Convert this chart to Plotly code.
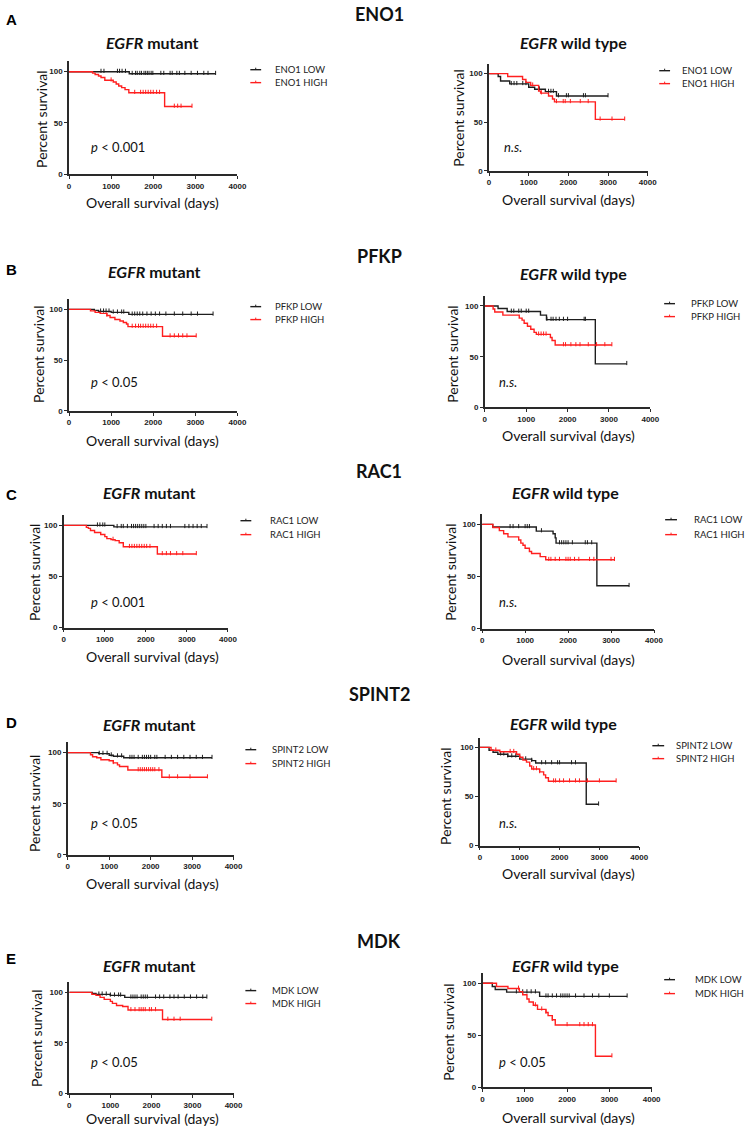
import plotly.graph_objects as go

W, H = 751, 1135

# ---------------- data (time in days, percent survival) ----------------
genes = ["ENO1", "PFKP", "RAC1", "SPINT2", "MDK"]
panel_letters = ["A", "B", "C", "D", "E"]
pvals_mut = ["p < 0.001", "p < 0.05", "p < 0.001", "p < 0.05", "p < 0.05"]
pvals_wt = ["n.s.", "n.s.", "n.s.", "n.s.", "p < 0.05"]
x_ticks = [0, 1000, 2000, 3000, 4000]
y_ticks = [0, 50, 100]

# ENO1
eno1_mut_low_t = [1430]
eno1_mut_low_s = [98]
eno1_mut_low_end = 3480
eno1_mut_low_cens = [760, 830, 1150, 1200, 1260, 1340, 1500, 1580, 1620, 1680, 1720, 1780, 1820, 1860, 1900,
                     1950, 1990, 2180, 2250, 2400, 2450, 2560, 2620, 2750, 2900, 3050, 3200, 3300, 3480]
eno1_mut_high_t = [560, 620, 700, 760, 850, 1050, 1120, 1180, 1250, 1330, 1420, 2270]
eno1_mut_high_s = [98.6, 97.2, 95.8, 94.4, 91.6, 90, 88, 86, 84.5, 82.5, 79.5, 66]
eno1_mut_high_end = 2920
eno1_mut_high_cens = [1000, 1560, 1700, 1760, 1820, 1880, 1940, 2000, 2080, 2150, 2500, 2580, 2660, 2920]

eno1_wt_low_t = [230, 290, 520, 1000, 1150, 1420, 1700]
eno1_wt_low_s = [97, 92.5, 89.5, 86, 84, 81.5, 77]
eno1_wt_low_end = 3000
eno1_wt_low_cens = [560, 630, 700, 850, 930, 1270, 1500, 1560, 1620, 1750, 1950, 2000, 2380, 2430, 3000]
eno1_wt_high_t = [470, 845, 930, 1050, 1250, 1300, 1500, 1600, 1650, 2680]
eno1_wt_high_s = [97, 94, 91, 88, 82, 80, 77, 74, 71, 53]
eno1_wt_high_end = 3420
eno1_wt_high_cens = [1100, 1320, 1700, 1870, 1920, 2050, 2300, 2500, 2800, 3100, 3420]

# PFKP
pfkp_mut_low_t = [600, 700, 1000, 1420]
pfkp_mut_low_s = [99, 98, 97, 95]
pfkp_mut_low_end = 3420
pfkp_mut_low_cens = [750, 820, 880, 950, 1050, 1150, 1250, 1300, 1500, 1560, 1620, 1680, 1750, 1850, 1950,
                     2050, 2150, 2300, 2500, 2700, 2900, 3050, 3420]
pfkp_mut_high_t = [510, 620, 740, 900, 975, 1090, 1210, 1290, 1365, 1400, 2220]
pfkp_mut_high_s = [98.5, 97, 96, 94, 92, 90, 88.5, 87, 85.5, 83, 73.5]
pfkp_mut_high_end = 3020
pfkp_mut_high_cens = [900, 1500, 1580, 1650, 1700, 1760, 1820, 1880, 1940, 2000, 2080, 2400, 2500, 2600,
                      2700, 2800, 3020]

pfkp_wt_low_t = [320, 540, 1345, 1490, 2670]
pfkp_wt_low_s = [97.5, 94.5, 91, 86.5, 43]
pfkp_wt_low_end = 3430
pfkp_wt_low_cens = [640, 700, 820, 880, 1000, 1060, 1500, 1600, 1650, 1720, 1800, 1900, 2000, 2400, 2430, 3430]
pfkp_wt_high_t = [200, 240, 436, 832, 900, 950, 1030, 1110, 1190, 1245, 1585, 1625, 1700]
pfkp_wt_high_s = [97, 94, 91, 88, 86, 83, 80, 77, 74, 72, 69, 66, 61.5]
pfkp_wt_high_end = 3070
pfkp_wt_high_cens = [1300, 1360, 1420, 1480, 1900, 1950, 2080, 2200, 2300, 2500, 2700, 2900, 3070]

# RAC1
rac1_mut_low_t = [1220]
rac1_mut_low_s = [98.5]
rac1_mut_low_end = 3490
rac1_mut_low_cens = [820, 880, 950, 1000, 1300, 1400, 1450, 1550, 1650, 1700, 1750, 1800, 1850, 1900, 1950,
                     2000, 2200, 2300, 2400, 2500, 2600, 2950, 3050, 3150, 3250, 3350, 3490]
rac1_mut_high_t = [550, 600, 650, 750, 900, 1000, 1050, 1150, 1250, 1350, 1450, 2280]
rac1_mut_high_s = [98, 97, 95, 93, 91, 89, 87, 86, 85, 83, 79, 72]
rac1_mut_high_end = 3230
rac1_mut_high_cens = [1200, 1600, 1660, 1720, 1780, 1840, 1900, 1960, 2020, 2100, 2400, 2500, 2600, 2750,
                      2900, 3230]

rac1_wt_low_t = [245, 1260, 1650, 1700, 1720, 2670]
rac1_wt_low_s = [97.5, 93.5, 91, 87, 82, 41]
rac1_wt_low_end = 3420
rac1_wt_low_cens = [650, 720, 850, 1000, 1050, 1100, 1380, 1800, 1850, 1900, 1950, 2000, 2100, 2400, 2450,
                    2550, 3420]
rac1_wt_high_t = [250, 400, 500, 600, 850, 900, 950, 1000, 1100, 1150, 1350, 1480]
rac1_wt_high_s = [97, 94, 91, 88, 85, 82, 80, 77, 74, 72, 69, 66]
rac1_wt_high_end = 3080
rac1_wt_high_cens = [1550, 1600, 1700, 1800, 1950, 2000, 2050, 2150, 2250, 2500, 2600, 3000, 3080]

# SPINT2
spint2_mut_low_t = [750, 1000, 1100, 1350]
spint2_mut_low_s = [99, 97.5, 96.5, 95]
spint2_mut_low_end = 3480
spint2_mut_low_cens = [760, 850, 950, 1050, 1200, 1300, 1500, 1550, 1600, 1700, 1800, 1850, 1900, 1950, 2000,
                       2100, 2150, 2350, 2500, 2650, 2800, 2950, 3100, 3250, 3480]
spint2_mut_high_t = [550, 600, 700, 800, 1000, 1100, 1200, 1250, 1450, 2270]
spint2_mut_high_s = [98, 96, 95, 93, 92, 90, 88, 86.5, 83, 76]
spint2_mut_high_end = 3370
spint2_mut_high_cens = [1100, 1700, 1750, 1800, 1850, 1900, 1950, 2000, 2050, 2100, 2200, 2450, 2650, 2950, 3370]

spint2_wt_low_t = [230, 330, 450, 700, 1000, 1300, 1400, 2670]
spint2_wt_low_s = [97, 95, 93, 91, 88, 86.5, 84, 42]
spint2_wt_low_end = 2980
spint2_wt_low_cens = [520, 600, 700, 800, 900, 1150, 1300, 1550, 1650, 1800, 1950, 2000, 2300, 2400, 2980]
spint2_wt_high_t = [280, 500, 920, 1000, 1080, 1170, 1250, 1300, 1500, 1600, 1650, 1720]
spint2_wt_high_s = [97, 95.5, 93, 90, 87, 85, 81, 78, 75, 72, 69, 65.5]
spint2_wt_high_end = 3420
spint2_wt_high_cens = [400, 760, 850, 1350, 1420, 1500, 1850, 1900, 2000, 2100, 2250, 2400, 2500, 2700, 3000, 3420]

# MDK
mdk_mut_low_t = [560, 650, 1000, 1350]
mdk_mut_low_s = [99, 98, 97, 95]
mdk_mut_low_end = 3350
mdk_mut_low_cens = [720, 800, 900, 1000, 1100, 1200, 1250, 1500, 1550, 1600, 1650, 1750, 1800, 1850, 1900,
                    2100, 2200, 2300, 2450, 2550, 2650, 2800, 2950, 3100, 3250, 3350]
mdk_mut_high_t = [550, 650, 750, 850, 1000, 1050, 1150, 1300, 1430, 2270]
mdk_mut_high_s = [98, 97, 95, 93, 91, 89, 87, 86, 82.5, 73]
mdk_mut_high_end = 3470
mdk_mut_high_cens = [1500, 1600, 1700, 1750, 1800, 1850, 1950, 2000, 2100, 2400, 2550, 2700, 3470]

mdk_wt_low_t = [230, 300, 570, 1350]
mdk_wt_low_s = [97, 94, 91.5, 87.5]
mdk_wt_low_end = 3420
mdk_wt_low_cens = [800, 950, 1050, 1150, 1250, 1500, 1550, 1650, 1750, 1850, 1900, 1950, 2000, 2050, 2200,
                   2400, 2600, 2750, 3000, 3420]
mdk_wt_high_t = [330, 600, 870, 950, 1050, 1100, 1200, 1300, 1500, 1550, 1650, 1720, 2670]
mdk_wt_high_s = [97, 95, 92, 89, 85, 82, 79, 75, 72, 69, 65, 60, 30]
mdk_wt_high_end = 3060
mdk_wt_high_cens = [850, 1250, 1400, 1500, 1650, 2000, 2300, 2400, 2500, 2600, 3060]

curves = {
    "ENO1": {
        "mut": [(eno1_mut_low_t, eno1_mut_low_s, eno1_mut_low_end, eno1_mut_low_cens),
                (eno1_mut_high_t, eno1_mut_high_s, eno1_mut_high_end, eno1_mut_high_cens)],
        "wt": [(eno1_wt_low_t, eno1_wt_low_s, eno1_wt_low_end, eno1_wt_low_cens),
               (eno1_wt_high_t, eno1_wt_high_s, eno1_wt_high_end, eno1_wt_high_cens)]},
    "PFKP": {
        "mut": [(pfkp_mut_low_t, pfkp_mut_low_s, pfkp_mut_low_end, pfkp_mut_low_cens),
                (pfkp_mut_high_t, pfkp_mut_high_s, pfkp_mut_high_end, pfkp_mut_high_cens)],
        "wt": [(pfkp_wt_low_t, pfkp_wt_low_s, pfkp_wt_low_end, pfkp_wt_low_cens),
               (pfkp_wt_high_t, pfkp_wt_high_s, pfkp_wt_high_end, pfkp_wt_high_cens)]},
    "RAC1": {
        "mut": [(rac1_mut_low_t, rac1_mut_low_s, rac1_mut_low_end, rac1_mut_low_cens),
                (rac1_mut_high_t, rac1_mut_high_s, rac1_mut_high_end, rac1_mut_high_cens)],
        "wt": [(rac1_wt_low_t, rac1_wt_low_s, rac1_wt_low_end, rac1_wt_low_cens),
               (rac1_wt_high_t, rac1_wt_high_s, rac1_wt_high_end, rac1_wt_high_cens)]},
    "SPINT2": {
        "mut": [(spint2_mut_low_t, spint2_mut_low_s, spint2_mut_low_end, spint2_mut_low_cens),
                (spint2_mut_high_t, spint2_mut_high_s, spint2_mut_high_end, spint2_mut_high_cens)],
        "wt": [(spint2_wt_low_t, spint2_wt_low_s, spint2_wt_low_end, spint2_wt_low_cens),
               (spint2_wt_high_t, spint2_wt_high_s, spint2_wt_high_end, spint2_wt_high_cens)]},
    "MDK": {
        "mut": [(mdk_mut_low_t, mdk_mut_low_s, mdk_mut_low_end, mdk_mut_low_cens),
                (mdk_mut_high_t, mdk_mut_high_s, mdk_mut_high_end, mdk_mut_high_cens)],
        "wt": [(mdk_wt_low_t, mdk_wt_low_s, mdk_wt_low_end, mdk_wt_low_cens),
               (mdk_wt_high_t, mdk_wt_high_s, mdk_wt_high_end, mdk_wt_high_cens)]},
}

# ---------------- layout geometry (pixels) ----------------
# per panel: x0 px, x4000 px, y0 px, y110 px
geom = {
    ("ENO1", "mut"): (68, 239, 175, 61.7),
    ("ENO1", "wt"): (494.3, 655.3, 171.7, 64.2),
    ("PFKP", "mut"): (68, 239, 412.7, 300.5),
    ("PFKP", "wt"): (490, 658, 409.3, 297.1),
    ("RAC1", "mut"): (62.7, 229.3, 630.3, 517.4),
    ("RAC1", "wt"): (487.3, 661.7, 631.3, 516.2),
    ("SPINT2", "mut"): (66.7, 235, 858.7, 745.7),
    ("SPINT2", "wt"): (485, 646.7, 849.3, 740.8),
    ("MDK", "mut"): (68.3, 235, 1098, 986.6),
    ("MDK", "wt"): (487.7, 659.3, 1092.3, 977.2),
}
# text positions: title(cx, cy), legend(line x0, x1, y_low, y_high, text x), pval(x, y),
# ytitle(x, cy), xtitle(cx, y)
textpos = {
    ("ENO1", "mut"): ((153, 43), (252, 263, 70, 83, 275), (88, 148), (40, 120), (153, 203)),
    ("ENO1", "wt"): ((580, 43), (667, 678, 71, 84, 688), (507, 148), (463, 119), (575, 200)),
    ("PFKP", "mut"): ((155, 273), (252, 263, 308, 321, 275), (88, 384), (37, 356), (153, 442)),
    ("PFKP", "wt"): ((580, 275), (672, 683, 305, 318, 697), (502, 384), (457, 356), (575, 437)),
    ("RAC1", "mut"): ((150, 495), (242, 253, 523, 537, 270), (88, 605), (33, 575), (153, 659)),
    ("RAC1", "wt"): ((572, 495), (673, 685, 522, 537, 700), (502, 605), (455, 575), (575, 662)),
    ("SPINT2", "mut"): ((150, 728), (247, 258, 753, 767, 272), (88, 827), (33, 807), (153, 887)),
    ("SPINT2", "wt"): ((570, 727), (660, 672, 749, 762, 682), (502, 827), (450, 800), (575, 877)),
    ("MDK", "mut"): ((150, 970), (247, 258, 995, 1008, 272), (88, 1067), (35, 1043), (153, 1123)),
    ("MDK", "wt"): ((572, 970), (672, 683, 984, 998, 701), (502, 1067), (453, 1037), (575, 1122)),
}
gene_title_y = {"ENO1": 14, "PFKP": 257, "RAC1": 473, "SPINT2": 697, "MDK": 945}
letter_y = {"A": 20, "B": 271, "C": 497, "D": 726, "E": 963}

BLACK = "#1e1e1e"
RED = "#ff1f1f"
FONT = "Lato"


def px_x(px):
    return px / W


def px_y(py):
    return 1 - py / H


def step_xy(t, s, end):
    xs = [0] + list(t) + [end]
    ys = [100] + list(s) + [s[-1]]
    return xs, ys


def surv_at(t, s, c):
    v = 100
    for ti, si in zip(t, s):
        if ti <= c:
            v = si
    return v


fig = go.Figure()
annotations = []
shapes = []

idx = 0
for gi, gene in enumerate(genes):
    annotations.append(dict(x=px_x(383), y=px_y(gene_title_y[gene]), xref="paper", yref="paper",
                            text=f"<b>{gene}</b>", showarrow=False, xanchor="center", yanchor="middle",
                            font=dict(family=FONT, size=18, color="#111")))
    letter = panel_letters[gi]
    annotations.append(dict(x=px_x(2), y=px_y(letter_y[letter]), xref="paper", yref="paper",
                            text=f"<b>{letter}</b>", showarrow=False, xanchor="left", yanchor="middle",
                            font=dict(family="Liberation Sans", size=15, color="#000")))
    for grp in ["mut", "wt"]:
        idx += 1
        xa = "x" if idx == 1 else f"x{idx}"
        ya = "y" if idx == 1 else f"y{idx}"
        x0, x1, y0, y1 = geom[(gene, grp)]
        axis_common = dict(showline=True, linecolor="#2a2a2a", linewidth=1.5, ticks="outside",
                           ticklen=3, tickwidth=1.2, tickcolor="#2a2a2a", showgrid=False, zeroline=False,
                           tickfont=dict(family="Liberation Sans", size=8, color="#222", weight="bold"),
                           fixedrange=True)
        fig.layout[f"xaxis{'' if idx == 1 else idx}"] = dict(
            domain=[px_x(x0), px_x(x1)], range=[0, 4000], tickvals=x_ticks, anchor=ya, **axis_common)
        fig.layout[f"yaxis{'' if idx == 1 else idx}"] = dict(
            domain=[px_y(y0), px_y(y1)], range=[0, 110], tickvals=y_ticks, anchor=xa, **axis_common)

        colors = [BLACK, RED]
        names = [f"{gene} LOW", f"{gene} HIGH"]
        for (t, s, end, cens), col, nm in zip(curves[gene][grp], colors, names):
            xs, ys = step_xy(t, s, end)
            fig.add_trace(go.Scatter(x=xs, y=ys, mode="lines", line=dict(color=col, width=1.4, shape="hv"),
                                     xaxis=xa, yaxis=ya, showlegend=False, name=nm))
            fig.add_trace(go.Scatter(x=cens, y=[surv_at(t, s, c) + 0.8 for c in cens], mode="markers",
                                     marker=dict(symbol="line-ns", size=3, line=dict(color=col, width=1)),
                                     xaxis=xa, yaxis=ya, showlegend=False, name=nm))

        (tcx, tcy), (lx0, lx1, lyl, lyh, ltx), (pvx, pvy), (ytx, yty), (xtx, xty) = textpos[(gene, grp)]
        sub = "<b><i>EGFR</i> mutant</b>" if grp == "mut" else "<b><i>EGFR</i> wild type</b>"
        annotations.append(dict(x=px_x(tcx), y=px_y(tcy), xref="paper", yref="paper", text=sub,
                                showarrow=False, xanchor="center", yanchor="middle",
                                font=dict(family=FONT, size=16, color="#111")))
        for ly, col, nm in [(lyl, BLACK, names[0]), (lyh, RED, names[1])]:
            shapes.append(dict(type="line", xref="paper", yref="paper", x0=px_x(lx0), x1=px_x(lx1),
                               y0=px_y(ly), y1=px_y(ly), line=dict(color=col, width=1.4)))
            mx = (lx0 + lx1) / 2
            shapes.append(dict(type="line", xref="paper", yref="paper", x0=px_x(mx), x1=px_x(mx),
                               y0=px_y(ly - 2), y1=px_y(ly), line=dict(color=col, width=1)))
            annotations.append(dict(x=px_x(ltx), y=px_y(ly), xref="paper", yref="paper", text=nm,
                                    showarrow=False, xanchor="left", yanchor="middle",
                                    font=dict(family=FONT, size=9.5, color="#222")))
        pv = pvals_mut[gi] if grp == "mut" else pvals_wt[gi]
        pv_txt = "<i>p</i>" + pv[1:] if pv.startswith("p") else f"<i>{pv}</i>"
        annotations.append(dict(x=px_x(pvx), y=px_y(pvy), xref="paper", yref="paper", text=pv_txt,
                                showarrow=False, xanchor="left", yanchor="middle",
                                font=dict(family=FONT, size=13, color="#111")))
        annotations.append(dict(x=px_x(ytx), y=px_y(yty), xref="paper", yref="paper", text="Percent survival",
                                showarrow=False, xanchor="center", yanchor="middle", textangle=-90,
                                font=dict(family=FONT, size=14, color="#111")))
        annotations.append(dict(x=px_x(xtx), y=px_y(xty), xref="paper", yref="paper",
                                text="Overall survival (days)", showarrow=False, xanchor="center",
                                yanchor="middle", font=dict(family=FONT, size=14, color="#111")))

fig.update_layout(width=W, height=H, autosize=False, margin=dict(l=0, r=0, t=0, b=0),
                  paper_bgcolor="white", plot_bgcolor="white", showlegend=False,
                  annotations=annotations, shapes=shapes)

fig.write_html("out.html", config={"displayModeBar": False},
               post_script="document.body.style.margin='0';document.body.style.overflow='hidden';")
